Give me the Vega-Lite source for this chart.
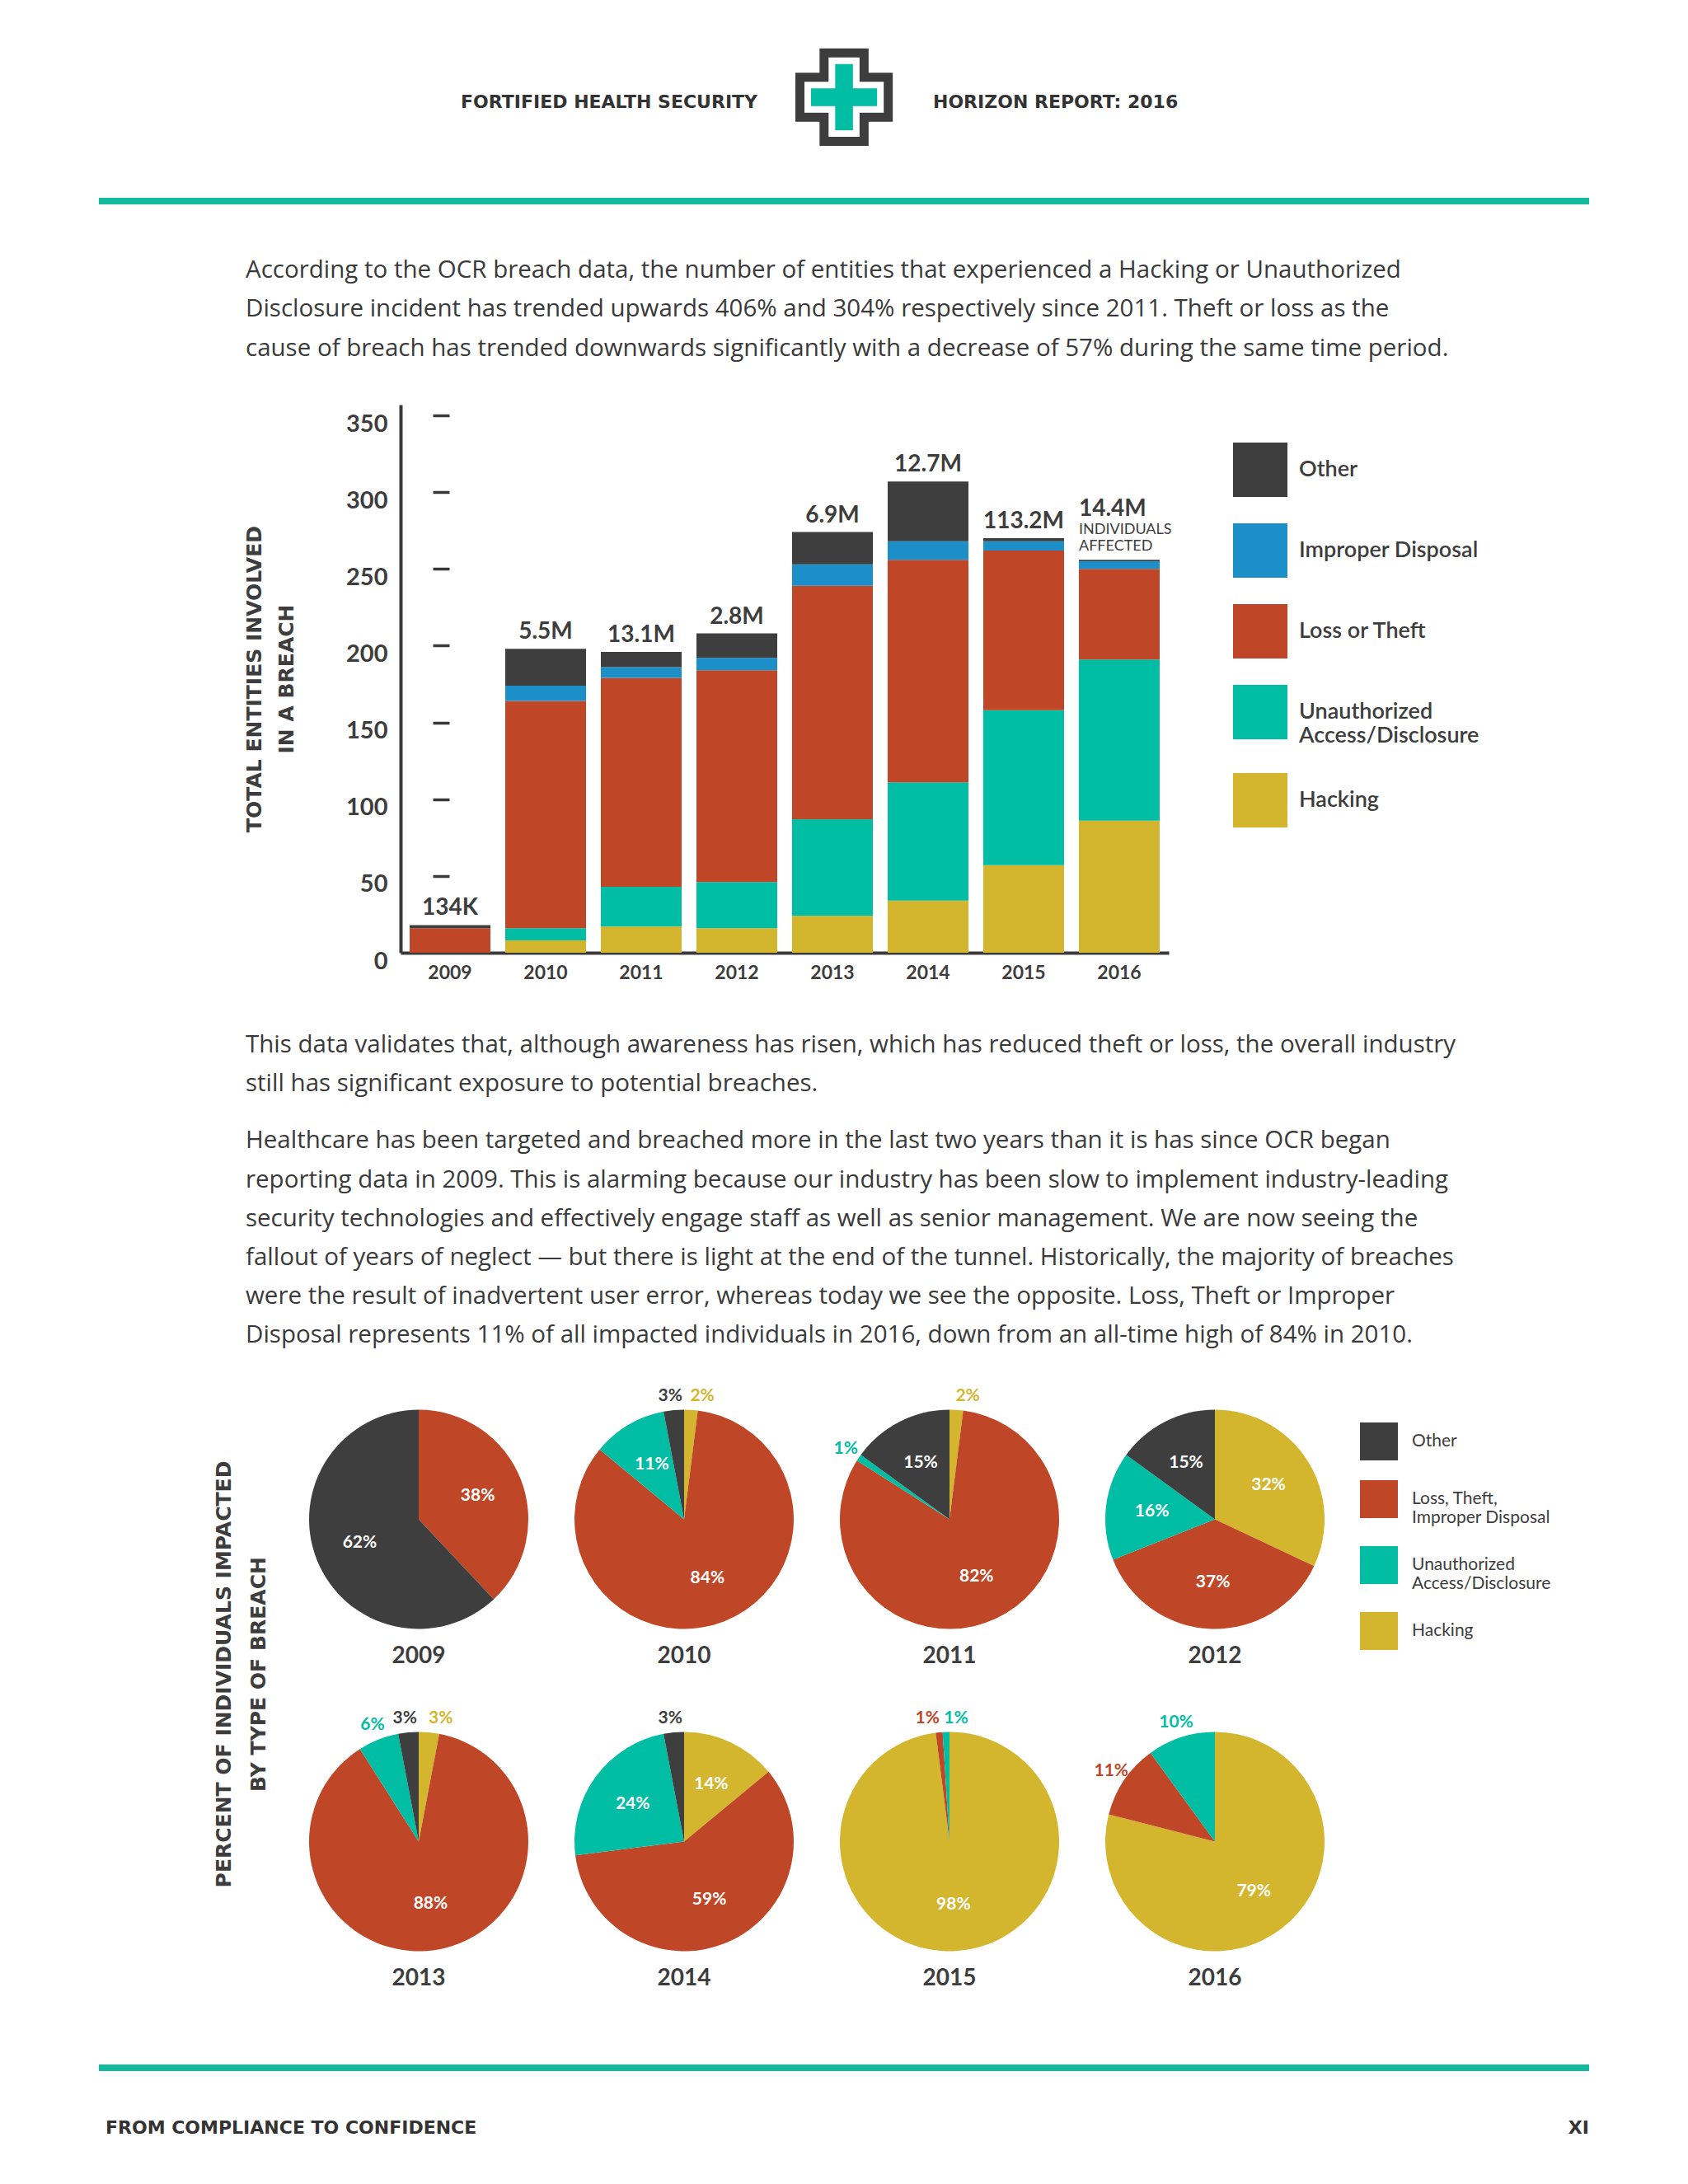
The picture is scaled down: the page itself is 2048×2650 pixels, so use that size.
{
  "$schema": "https://vega.github.io/schema/vega-lite/v6.json",
  "background": "white",
  "padding": 0,
  "bounds": "flush",
  "center": true,
  "spacing": 0,
  "config": {"view": {"stroke": null}, "font": "Lato", "axis": {"grid": false}},
  "resolve": {"scale": {"color": "independent"}, "legend": {"color": "independent"}},
  "datasets": {
    "bars": [
      {"year": "2009", "cat": "Hacking", "k": 1, "n": 0},
      {"year": "2009", "cat": "Unauthorized Access/Disclosure", "k": 2, "n": 0},
      {"year": "2009", "cat": "Loss or Theft", "k": 3, "n": 16},
      {"year": "2009", "cat": "Improper Disposal", "k": 4, "n": 0},
      {"year": "2009", "cat": "Other", "k": 5, "n": 2},
      {"year": "2010", "cat": "Hacking", "k": 1, "n": 8},
      {"year": "2010", "cat": "Unauthorized Access/Disclosure", "k": 2, "n": 8},
      {"year": "2010", "cat": "Loss or Theft", "k": 3, "n": 148},
      {"year": "2010", "cat": "Improper Disposal", "k": 4, "n": 10},
      {"year": "2010", "cat": "Other", "k": 5, "n": 24},
      {"year": "2011", "cat": "Hacking", "k": 1, "n": 17},
      {"year": "2011", "cat": "Unauthorized Access/Disclosure", "k": 2, "n": 26},
      {"year": "2011", "cat": "Loss or Theft", "k": 3, "n": 136},
      {"year": "2011", "cat": "Improper Disposal", "k": 4, "n": 7},
      {"year": "2011", "cat": "Other", "k": 5, "n": 10},
      {"year": "2012", "cat": "Hacking", "k": 1, "n": 16},
      {"year": "2012", "cat": "Unauthorized Access/Disclosure", "k": 2, "n": 30},
      {"year": "2012", "cat": "Loss or Theft", "k": 3, "n": 138},
      {"year": "2012", "cat": "Improper Disposal", "k": 4, "n": 8},
      {"year": "2012", "cat": "Other", "k": 5, "n": 16},
      {"year": "2013", "cat": "Hacking", "k": 1, "n": 24},
      {"year": "2013", "cat": "Unauthorized Access/Disclosure", "k": 2, "n": 63},
      {"year": "2013", "cat": "Loss or Theft", "k": 3, "n": 152},
      {"year": "2013", "cat": "Improper Disposal", "k": 4, "n": 14},
      {"year": "2013", "cat": "Other", "k": 5, "n": 21},
      {"year": "2014", "cat": "Hacking", "k": 1, "n": 34},
      {"year": "2014", "cat": "Unauthorized Access/Disclosure", "k": 2, "n": 77},
      {"year": "2014", "cat": "Loss or Theft", "k": 3, "n": 145},
      {"year": "2014", "cat": "Improper Disposal", "k": 4, "n": 12},
      {"year": "2014", "cat": "Other", "k": 5, "n": 39},
      {"year": "2015", "cat": "Hacking", "k": 1, "n": 57},
      {"year": "2015", "cat": "Unauthorized Access/Disclosure", "k": 2, "n": 101},
      {"year": "2015", "cat": "Loss or Theft", "k": 3, "n": 104},
      {"year": "2015", "cat": "Improper Disposal", "k": 4, "n": 6},
      {"year": "2015", "cat": "Other", "k": 5, "n": 2},
      {"year": "2016", "cat": "Hacking", "k": 1, "n": 86},
      {"year": "2016", "cat": "Unauthorized Access/Disclosure", "k": 2, "n": 105},
      {"year": "2016", "cat": "Loss or Theft", "k": 3, "n": 59},
      {"year": "2016", "cat": "Improper Disposal", "k": 4, "n": 5},
      {"year": "2016", "cat": "Other", "k": 5, "n": 1}
    ],
    "affected": [
      {"year": "2009", "label": "134K"},
      {"year": "2010", "label": "5.5M"},
      {"year": "2011", "label": "13.1M"},
      {"year": "2012", "label": "2.8M"},
      {"year": "2013", "label": "6.9M"},
      {"year": "2014", "label": "12.7M"},
      {"year": "2015", "label": "113.2M"},
      {"year": "2016", "label": "14.4M"}
    ],
    "pies": [
      {"year": 2009, "cat": "Loss, Theft, Improper Disposal", "k": 2, "pct": 0.38},
      {"year": 2009, "cat": "Other", "k": 4, "pct": 0.62},
      {"year": 2010, "cat": "Hacking", "k": 1, "pct": 0.02},
      {"year": 2010, "cat": "Loss, Theft, Improper Disposal", "k": 2, "pct": 0.84},
      {"year": 2010, "cat": "Unauthorized Access/Disclosure", "k": 3, "pct": 0.11},
      {"year": 2010, "cat": "Other", "k": 4, "pct": 0.03},
      {"year": 2011, "cat": "Hacking", "k": 1, "pct": 0.02},
      {"year": 2011, "cat": "Loss, Theft, Improper Disposal", "k": 2, "pct": 0.82},
      {"year": 2011, "cat": "Unauthorized Access/Disclosure", "k": 3, "pct": 0.01},
      {"year": 2011, "cat": "Other", "k": 4, "pct": 0.15},
      {"year": 2012, "cat": "Hacking", "k": 1, "pct": 0.32},
      {"year": 2012, "cat": "Loss, Theft, Improper Disposal", "k": 2, "pct": 0.37},
      {"year": 2012, "cat": "Unauthorized Access/Disclosure", "k": 3, "pct": 0.16},
      {"year": 2012, "cat": "Other", "k": 4, "pct": 0.15},
      {"year": 2013, "cat": "Hacking", "k": 1, "pct": 0.03},
      {"year": 2013, "cat": "Loss, Theft, Improper Disposal", "k": 2, "pct": 0.88},
      {"year": 2013, "cat": "Unauthorized Access/Disclosure", "k": 3, "pct": 0.06},
      {"year": 2013, "cat": "Other", "k": 4, "pct": 0.03},
      {"year": 2014, "cat": "Hacking", "k": 1, "pct": 0.14},
      {"year": 2014, "cat": "Loss, Theft, Improper Disposal", "k": 2, "pct": 0.59},
      {"year": 2014, "cat": "Unauthorized Access/Disclosure", "k": 3, "pct": 0.24},
      {"year": 2014, "cat": "Other", "k": 4, "pct": 0.03},
      {"year": 2015, "cat": "Hacking", "k": 1, "pct": 0.98},
      {"year": 2015, "cat": "Loss, Theft, Improper Disposal", "k": 2, "pct": 0.01},
      {"year": 2015, "cat": "Unauthorized Access/Disclosure", "k": 3, "pct": 0.01},
      {"year": 2016, "cat": "Hacking", "k": 1, "pct": 0.79},
      {"year": 2016, "cat": "Loss, Theft, Improper Disposal", "k": 2, "pct": 0.11},
      {"year": 2016, "cat": "Unauthorized Access/Disclosure", "k": 3, "pct": 0.10}
    ]
  },
  "vconcat": [
    {
      "width": 2048, "height": 240,
      "data": {"values": [{}]},
      "layer": [
        {"mark": {"type": "text", "text": "FORTIFIED HEALTH SECURITY", "align": "right", "baseline": "middle", "dx": -105, "dy": 4, "font": "DejaVu Sans", "fontSize": 22, "fontWeight": "bold", "color": "#333333"}, "encoding": {}},
        {"mark": {"type": "text", "text": "HORIZON REPORT: 2016", "align": "left", "baseline": "middle", "dx": 108, "dy": 4, "font": "DejaVu Sans", "fontSize": 22, "fontWeight": "bold", "color": "#333333"}, "encoding": {}},
        {"mark": {"type": "text", "text": "✚", "align": "center", "baseline": "middle", "dy": 5, "font": "DejaVu Sans", "fontSize": 110, "color": "#3d3d3d", "stroke": "#3d3d3d", "strokeWidth": 38, "strokeJoin": "miter"}, "encoding": {}},
        {"mark": {"type": "text", "text": "✚", "align": "center", "baseline": "middle", "dy": 5, "font": "DejaVu Sans", "fontSize": 110, "color": "white", "stroke": "white", "strokeWidth": 16, "strokeJoin": "miter"}, "encoding": {}},
        {"mark": {"type": "text", "text": "✚", "align": "center", "baseline": "middle", "dy": 5, "font": "DejaVu Sans", "fontSize": 110, "color": "#00bda3"}, "encoding": {}}
      ]
    },
    {
      "width": 1808, "height": 8,
      "data": {"values": [{}]},
      "view": {"fill": "#12b99d"},
      "mark": {"type": "rect", "color": "#12b99d"},
      "encoding": {}
    },
    {
      "width": 1452, "height": 243,
      "data": {"values": [
        {"line": 1, "text": "According to the OCR breach data, the number of entities that experienced a Hacking or Unauthorized"},
        {"line": 2, "text": "Disclosure incident has trended upwards 406% and 304% respectively since 2011. Theft or loss as the"},
        {"line": 3, "text": "cause of breach has trended downwards significantly with a decrease of 57% during the same time period."}
      ]},
      "mark": {"type": "text", "align": "left", "baseline": "middle", "font": "Open Sans", "fontSize": 29.5, "color": "#3a3a3a"},
      "encoding": {
        "x": {"datum": 0, "type": "quantitative", "scale": {"domain": [0, 1]}, "axis": null},
        "y": {"field": "line", "type": "quantitative", "scale": {"domain": [-0.688, 4.439], "reverse": true, "nice": false, "zero": false}, "axis": null},
        "text": {"field": "text"}
      }
    },
    {
      "width": 1076, "height": 665,
      "data": {"name": "bars"},
      "layer": [
        {
          "mark": {"type": "bar"},
          "encoding": {
            "x": {"field": "year", "type": "nominal", "scale": {"range": [0, 932], "paddingInner": 0.155, "paddingOuter": 0.095},
              "axis": {"title": null, "labelAngle": 0, "labelFont": "Lato", "labelFontSize": 23, "labelFontWeight": "bold", "labelColor": "#3d3d3d", "labelPadding": 13, "ticks": false, "domainColor": "#3a3a3a", "domainWidth": 4}},
            "y": {"field": "n", "type": "quantitative", "stack": "zero", "scale": {"domain": [0, 357], "nice": false},
              "axis": {"values": [0, 50, 100, 150, 200, 250, 300, 350], "ticks": false, "labelPadding": 16, "labelOffset": 10, "labelFont": "Lato", "labelFontSize": 29, "labelFontWeight": "bold", "labelColor": "#3d3d3d", "domainColor": "#3a3a3a", "domainWidth": 4,
                "title": ["TOTAL ENTITIES INVOLVED", "IN A BREACH"], "titleFont": "DejaVu Sans", "titleFontSize": 25, "titleFontWeight": "bold", "titleColor": "#3d3d3d", "titleLineHeight": 39, "titlePadding": 59}},
            "color": {"field": "cat", "type": "nominal",
              "scale": {"domain": ["Other", "Improper Disposal", "Loss or Theft", "Unauthorized Access/Disclosure", "Hacking"], "range": ["#3e3e3e", "#1d8fc8", "#bf4626", "#00bda3", "#d3b62e"]},
              "legend": {"title": null, "orient": "none", "legendX": 1010, "legendY": 46, "symbolType": "square", "symbolSize": 4356, "symbolStrokeWidth": 0, "symbolOpacity": 1, "rowPadding": 32, "labelOffset": 14, "labelFont": "Lato", "labelFontSize": 27, "labelFontWeight": 600, "labelColor": "#3d3d3d", "labelLimit": 500, "padding": 0,
                "labelExpr": "datum.label == 'Unauthorized Access/Disclosure' ? ['Unauthorized', 'Access/Disclosure'] : datum.label"}},
            "order": {"field": "k", "type": "quantitative"}
          }
        },
        {
          "transform": [
            {"filter": "datum.year != '2016'"},
            {"aggregate": [{"op": "sum", "field": "n", "as": "total"}], "groupby": ["year"]},
            {"lookup": "year", "from": {"data": {"name": "affected"}, "key": "year", "fields": ["label"]}}
          ],
          "mark": {"type": "text", "baseline": "alphabetic", "dy": -12, "font": "Lato", "fontSize": 28, "fontWeight": "bold", "color": "#3d3d3d"},
          "encoding": {
            "x": {"field": "year", "type": "nominal"},
            "y": {"field": "total", "type": "quantitative",
              "axis": {"orient": "left", "offset": -59, "values": [50, 100, 150, 200, 250, 300, 350], "tickSize": 20, "tickWidth": 3.5, "tickColor": "#3a3a3a", "labels": false, "domain": false, "title": null, "grid": false}},
            "text": {"field": "label"}
          }
        },
        {
          "transform": [
            {"filter": "datum.year == '2016'"},
            {"aggregate": [{"op": "sum", "field": "n", "as": "total"}], "groupby": ["year"]},
            {"lookup": "year", "from": {"data": {"name": "affected"}, "key": "year", "fields": ["label"]}}
          ],
          "mark": {"type": "text", "align": "left", "baseline": "alphabetic", "dy": -53, "font": "Lato", "fontSize": 28, "fontWeight": "bold", "color": "#3d3d3d"},
          "encoding": {
            "x": {"field": "year", "type": "nominal", "bandPosition": 0},
            "y": {"field": "total", "type": "quantitative", "axis": null},
            "text": {"field": "label"}
          }
        },
        {
          "transform": [
            {"filter": "datum.year == '2016'"},
            {"aggregate": [{"op": "sum", "field": "n", "as": "total"}], "groupby": ["year"]}
          ],
          "mark": {"type": "text", "text": ["INDIVIDUALS", "AFFECTED"], "align": "left", "baseline": "alphabetic", "dy": -31, "lineHeight": 20, "font": "Lato", "fontSize": 18, "color": "#3d3d3d"},
          "encoding": {
            "x": {"field": "year", "type": "nominal", "bandPosition": 0},
            "y": {"field": "total", "type": "quantitative", "axis": null}
          }
        }
      ],
      "resolve": {"axis": {"y": "independent"}}
    },
    {
      "width": 1452, "height": 184,
      "data": {"values": [
        {"line": 1, "text": "This data validates that, although awareness has risen, which has reduced theft or loss, the overall industry"},
        {"line": 2, "text": "still has significant exposure to potential breaches."}
      ]},
      "mark": {"type": "text", "align": "left", "baseline": "middle", "font": "Open Sans", "fontSize": 29.5, "color": "#3a3a3a"},
      "encoding": {
        "x": {"datum": 0, "type": "quantitative", "scale": {"domain": [0, 1]}, "axis": null},
        "y": {"field": "line", "type": "quantitative", "scale": {"domain": [-1.359, 2.523], "reverse": true, "nice": false, "zero": false}, "axis": null},
        "text": {"field": "text"}
      }
    },
    {
      "width": 1452, "height": 307.5,
      "data": {"values": [
        {"line": 1, "text": "Healthcare has been targeted and breached more in the last two years than it is has since OCR began"},
        {"line": 2, "text": "reporting data in 2009. This is alarming because our industry has been slow to implement industry-leading"},
        {"line": 3, "text": "security technologies and effectively engage staff as well as senior management. We are now seeing the"},
        {"line": 4, "text": "fallout of years of neglect — but there is light at the end of the tunnel. Historically, the majority of breaches"},
        {"line": 5, "text": "were the result of inadvertent user error, whereas today we see the opposite. Loss, Theft or Improper"},
        {"line": 6, "text": "Disposal represents 11% of all impacted individuals in 2016, down from an all-time high of 84% in 2010."}
      ]},
      "mark": {"type": "text", "align": "left", "baseline": "middle", "font": "Open Sans", "fontSize": 29.5, "color": "#3a3a3a"},
      "encoding": {
        "x": {"datum": 0, "type": "quantitative", "scale": {"domain": [0, 1]}, "axis": null},
        "y": {"field": "line", "type": "quantitative", "scale": {"domain": [0.0544, 6.589], "reverse": true, "nice": false, "zero": false}, "axis": null},
        "text": {"field": "text"}
      }
    },
    {
      "width": 1388, "height": 391,
      "data": {"name": "pies"},
      "transform": [
        {"filter": "datum.year <= 2012"},
        {"stack": "pct", "groupby": ["year"], "sort": [{"field": "k", "order": "ascending"}], "as": ["t0", "t1"]}
      ],
      "title": {"text": ["PERCENT OF INDIVIDUALS IMPACTED", "BY TYPE OF BREACH"], "orient": "left", "anchor": "middle", "font": "DejaVu Sans", "fontSize": 25, "fontWeight": "bold", "color": "#3d3d3d", "lineHeight": 42, "offset": 3, "dx": -188},
      "layer": [
        {
          "mark": {"type": "arc", "outerRadius": 133},
          "encoding": {
            "x": {"field": "year", "type": "ordinal", "scale": {"type": "point", "range": [178, 1144], "padding": 0}, "axis": null},
            "theta": {"field": "t0", "type": "quantitative", "scale": {"domain": [0, 1]}, "stack": null},
            "theta2": {"field": "t1"},
            "color": {"field": "cat", "type": "nominal",
              "scale": {"domain": ["Other", "Loss, Theft, Improper Disposal", "Unauthorized Access/Disclosure", "Hacking"], "range": ["#3e3e3e", "#bf4626", "#00bda3", "#d3b62e"]},
              "legend": {"title": null, "orient": "none", "legendX": 1320, "legendY": 78, "symbolType": "square", "symbolSize": 2116, "symbolStrokeWidth": 0, "symbolOpacity": 1, "rowPadding": 24, "labelOffset": 17, "labelFont": "Lato", "labelFontSize": 21, "labelColor": "#3d3d3d", "labelLimit": 500, "padding": 0,
                "labelExpr": "datum.label == 'Unauthorized Access/Disclosure' ? ['Unauthorized', 'Access/Disclosure'] : datum.label == 'Loss, Theft, Improper Disposal' ? ['Loss, Theft,', 'Improper Disposal'] : datum.label"}}
          }
        },
        {
          "transform": [
            {"fold": ["t0", "t1"], "as": ["edge", "t"]},
            {"aggregate": [{"op": "mean", "field": "t", "as": "tm"}], "groupby": ["year", "cat", "k", "pct"]},
            {"filter": "datum.pct >= 0.14 || (datum.year == 2010 && datum.pct == 0.11)"}
          ],
          "mark": {"type": "text", "radius": 77, "font": "Lato", "fontSize": 21, "fontWeight": "bold", "color": "white", "baseline": "middle"},
          "encoding": {
            "x": {"field": "year", "type": "ordinal"},
            "theta": {"field": "tm", "type": "quantitative", "stack": null},
            "text": {"field": "pct", "type": "quantitative", "format": ".0%"}
          }
        },
        {
          "transform": [
            {"fold": ["t0", "t1"], "as": ["edge", "t"]},
            {"aggregate": [{"op": "mean", "field": "t", "as": "tm"}], "groupby": ["year", "cat", "k", "pct"]},
            {"filter": "!(datum.pct >= 0.14 || (datum.year == 2010 && datum.pct == 0.11)) && (datum.k == 2 || datum.k == 3)"}
          ],
          "mark": {"type": "text", "radius": 152, "font": "Lato", "fontSize": 21, "fontWeight": "bold", "baseline": "middle"},
          "encoding": {
            "x": {"field": "year", "type": "ordinal"},
            "theta": {"field": "tm", "type": "quantitative", "stack": null},
            "color": {"field": "cat", "type": "nominal"},
            "text": {"field": "pct", "type": "quantitative", "format": ".0%"}
          }
        },
        {
          "transform": [
            {"fold": ["t0", "t1"], "as": ["edge", "t"]},
            {"aggregate": [{"op": "mean", "field": "t", "as": "tm"}], "groupby": ["year", "cat", "k", "pct"]},
            {"filter": "!(datum.pct >= 0.14) && datum.k == 1"}
          ],
          "mark": {"type": "text", "radius": 150, "align": "left", "dx": -2, "font": "Lato", "fontSize": 21, "fontWeight": "bold", "baseline": "middle"},
          "encoding": {
            "x": {"field": "year", "type": "ordinal"},
            "theta": {"field": "tm", "type": "quantitative", "stack": null},
            "color": {"field": "cat", "type": "nominal"},
            "text": {"field": "pct", "type": "quantitative", "format": ".0%"}
          }
        },
        {
          "transform": [
            {"fold": ["t0", "t1"], "as": ["edge", "t"]},
            {"aggregate": [{"op": "mean", "field": "t", "as": "tm"}], "groupby": ["year", "cat", "k", "pct"]},
            {"filter": "!(datum.pct >= 0.14) && datum.k == 4"}
          ],
          "mark": {"type": "text", "radius": 150, "align": "right", "dx": 12, "font": "Lato", "fontSize": 21, "fontWeight": "bold", "baseline": "middle"},
          "encoding": {
            "x": {"field": "year", "type": "ordinal"},
            "theta": {"field": "tm", "type": "quantitative", "stack": null},
            "color": {"field": "cat", "type": "nominal"},
            "text": {"field": "pct", "type": "quantitative", "format": ".0%"}
          }
        },
        {
          "transform": [{"aggregate": [{"op": "count", "as": "c"}], "groupby": ["year"]}],
          "mark": {"type": "text", "dy": 166, "baseline": "middle", "font": "Lato", "fontSize": 28, "fontWeight": "bold", "color": "#3d3d3d"},
          "encoding": {
            "x": {"field": "year", "type": "ordinal"},
            "text": {"field": "year", "type": "ordinal"}
          }
        }
      ]
    },
    {
      "width": 1388, "height": 391,
      "data": {"name": "pies"},
      "transform": [
        {"filter": "datum.year >= 2013"},
        {"stack": "pct", "groupby": ["year"], "sort": [{"field": "k", "order": "ascending"}], "as": ["t0", "t1"]}
      ],
      "layer": [
        {
          "mark": {"type": "arc", "outerRadius": 133},
          "encoding": {
            "x": {"field": "year", "type": "ordinal", "scale": {"type": "point", "range": [178, 1144], "padding": 0}, "axis": null},
            "theta": {"field": "t0", "type": "quantitative", "scale": {"domain": [0, 1]}, "stack": null},
            "theta2": {"field": "t1"},
            "color": {"field": "cat", "type": "nominal",
              "scale": {"domain": ["Other", "Loss, Theft, Improper Disposal", "Unauthorized Access/Disclosure", "Hacking"], "range": ["#3e3e3e", "#bf4626", "#00bda3", "#d3b62e"]},
              "legend": null}
          }
        },
        {
          "transform": [
            {"fold": ["t0", "t1"], "as": ["edge", "t"]},
            {"aggregate": [{"op": "mean", "field": "t", "as": "tm"}], "groupby": ["year", "cat", "k", "pct"]},
            {"filter": "datum.pct >= 0.14"}
          ],
          "mark": {"type": "text", "radius": 77, "font": "Lato", "fontSize": 21, "fontWeight": "bold", "color": "white", "baseline": "middle"},
          "encoding": {
            "x": {"field": "year", "type": "ordinal"},
            "theta": {"field": "tm", "type": "quantitative", "stack": null},
            "text": {"field": "pct", "type": "quantitative", "format": ".0%"}
          }
        },
        {
          "transform": [
            {"fold": ["t0", "t1"], "as": ["edge", "t"]},
            {"aggregate": [{"op": "mean", "field": "t", "as": "tm"}], "groupby": ["year", "cat", "k", "pct"]},
            {"filter": "datum.pct < 0.14 && (datum.k == 2 || datum.k == 3) && datum.year != 2015"}
          ],
          "mark": {"type": "text", "radius": 152, "font": "Lato", "fontSize": 21, "fontWeight": "bold", "baseline": "middle"},
          "encoding": {
            "x": {"field": "year", "type": "ordinal"},
            "theta": {"field": "tm", "type": "quantitative", "stack": null},
            "color": {"field": "cat", "type": "nominal"},
            "text": {"field": "pct", "type": "quantitative", "format": ".0%"}
          }
        },
        {
          "transform": [
            {"fold": ["t0", "t1"], "as": ["edge", "t"]},
            {"aggregate": [{"op": "mean", "field": "t", "as": "tm"}], "groupby": ["year", "cat", "k", "pct"]},
            {"filter": "datum.pct < 0.14 && (datum.k == 1 || (datum.year == 2015 && datum.k == 3))"}
          ],
          "mark": {"type": "text", "radius": 150, "align": "left", "dx": -2, "font": "Lato", "fontSize": 21, "fontWeight": "bold", "baseline": "middle"},
          "encoding": {
            "x": {"field": "year", "type": "ordinal"},
            "theta": {"field": "tm", "type": "quantitative", "stack": null},
            "color": {"field": "cat", "type": "nominal"},
            "text": {"field": "pct", "type": "quantitative", "format": ".0%"}
          }
        },
        {
          "transform": [
            {"fold": ["t0", "t1"], "as": ["edge", "t"]},
            {"aggregate": [{"op": "mean", "field": "t", "as": "tm"}], "groupby": ["year", "cat", "k", "pct"]},
            {"filter": "datum.pct < 0.14 && datum.k == 4"}
          ],
          "mark": {"type": "text", "radius": 150, "align": "right", "dx": 12, "font": "Lato", "fontSize": 21, "fontWeight": "bold", "baseline": "middle"},
          "encoding": {
            "x": {"field": "year", "type": "ordinal"},
            "theta": {"field": "tm", "type": "quantitative", "stack": null},
            "color": {"field": "cat", "type": "nominal"},
            "text": {"field": "pct", "type": "quantitative", "format": ".0%"}
          }
        },
        {
          "transform": [
            {"fold": ["t0", "t1"], "as": ["edge", "t"]},
            {"aggregate": [{"op": "mean", "field": "t", "as": "tm"}], "groupby": ["year", "cat", "k", "pct"]},
            {"filter": "datum.year == 2015 && datum.k == 2"}
          ],
          "mark": {"type": "text", "radius": 150, "align": "right", "dx": 2, "font": "Lato", "fontSize": 21, "fontWeight": "bold", "baseline": "middle"},
          "encoding": {
            "x": {"field": "year", "type": "ordinal"},
            "theta": {"field": "tm", "type": "quantitative", "stack": null},
            "color": {"field": "cat", "type": "nominal"},
            "text": {"field": "pct", "type": "quantitative", "format": ".0%"}
          }
        },
        {
          "transform": [{"aggregate": [{"op": "count", "as": "c"}], "groupby": ["year"]}],
          "mark": {"type": "text", "dy": 166, "baseline": "middle", "font": "Lato", "fontSize": 28, "fontWeight": "bold", "color": "#3d3d3d"},
          "encoding": {
            "x": {"field": "year", "type": "ordinal"},
            "text": {"field": "year", "type": "ordinal"}
          }
        }
      ]
    },
    {
      "width": 10, "height": 74.5,
      "data": {"values": [{}]},
      "mark": {"type": "text", "text": ""},
      "encoding": {}
    },
    {
      "width": 1808, "height": 8,
      "data": {"values": [{}]},
      "view": {"fill": "#12b99d"},
      "mark": {"type": "rect", "color": "#12b99d"},
      "encoding": {}
    },
    {
      "width": 1808, "height": 138,
      "data": {"values": [{}]},
      "layer": [
        {"mark": {"type": "text", "text": "FROM COMPLIANCE TO CONFIDENCE", "align": "left", "baseline": "middle", "dx": 8, "font": "DejaVu Sans", "fontSize": 22, "fontWeight": "bold", "color": "#333333"},
         "encoding": {"x": {"datum": 0, "type": "quantitative", "scale": {"domain": [0, 1]}, "axis": null}}},
        {"mark": {"type": "text", "text": "XI", "align": "right", "baseline": "middle", "font": "DejaVu Sans", "fontSize": 22, "fontWeight": "bold", "color": "#333333"},
         "encoding": {"x": {"datum": 1, "type": "quantitative", "axis": null}}}
      ]
    }
  ]
}
